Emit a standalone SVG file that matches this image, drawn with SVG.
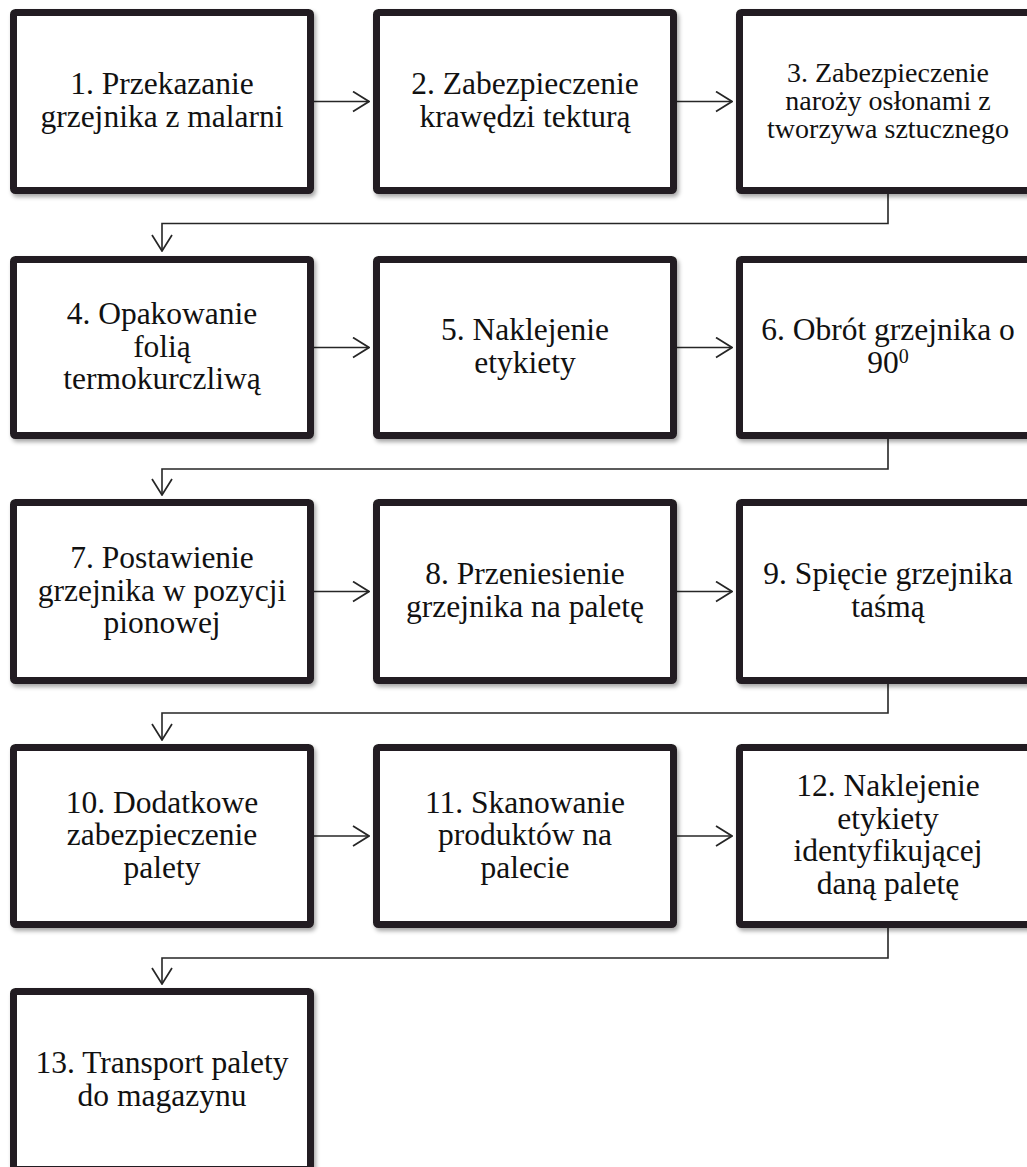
<svg xmlns="http://www.w3.org/2000/svg" width="1027" height="1167" viewBox="0 0 1027 1167">
<defs>
<filter id="sh" x="-5%" y="-5%" width="115%" height="120%">
<feDropShadow dx="2" dy="3" stdDeviation="2" flood-color="#000" flood-opacity="0.35"/>
</filter>
<marker id="ah" viewBox="0 0 18 22" refX="17" refY="11" markerWidth="18" markerHeight="22" markerUnits="userSpaceOnUse" orient="auto">
<path d="M1,1 L17,11 L1,21" fill="none" stroke="#262626" stroke-width="1.7"/>
</marker>
</defs>
<style>
.box{fill:#fff;stroke:#231f20;stroke-width:7;filter:url(#sh)}
.t{font-family:"Liberation Serif","Times New Roman",serif;font-size:31.5px;fill:#111;text-anchor:middle}
.s{font-size:28px}
.c{fill:none;stroke:#262626;stroke-width:1.6}
</style>
<rect width="1027" height="1167" fill="#fff"/>

<g id="connectors">
<path class="c" d="M314,101.5 H369" marker-end="url(#ah)"/>
<path class="c" d="M677,101.5 H732" marker-end="url(#ah)"/>
<path class="c" d="M888,194 V223.5 H162 V251" marker-end="url(#ah)"/>
<path class="c" d="M314,347.5 H369" marker-end="url(#ah)"/>
<path class="c" d="M677,347.5 H732" marker-end="url(#ah)"/>
<path class="c" d="M888,439 V469 H162 V495" marker-end="url(#ah)"/>
<path class="c" d="M314,591.5 H369" marker-end="url(#ah)"/>
<path class="c" d="M677,591.5 H732" marker-end="url(#ah)"/>
<path class="c" d="M888,684 V713 H162 V740" marker-end="url(#ah)"/>
<path class="c" d="M314,836 H369" marker-end="url(#ah)"/>
<path class="c" d="M677,836 H732" marker-end="url(#ah)"/>
<path class="c" d="M888,928 V958 H162 V984" marker-end="url(#ah)"/>
</g>

<g id="n1"><rect class="box" x="13.5" y="12.5" width="297" height="178" rx="2"/>
<text class="t" x="162" y="94.3">1. Przekazanie</text>
<text class="t" x="162" y="126.8">grzejnika z malarni</text></g>

<g id="n2"><rect class="box" x="376.5" y="12.5" width="297" height="178" rx="2"/>
<text class="t" x="525" y="94.3">2. Zabezpieczenie</text>
<text class="t" x="525" y="126.8">krawędzi tekturą</text></g>

<g id="n3"><rect class="box" x="739.5" y="12.5" width="297" height="178" rx="2"/>
<text class="t s" x="888" y="81.5">3. Zabezpieczenie</text>
<text class="t s" x="888" y="109.5">naroży osłonami z</text>
<text class="t s" x="888" y="137.5">tworzywa sztucznego</text></g>

<g id="n4"><rect class="box" x="13.5" y="259.5" width="297" height="176" rx="2"/>
<text class="t" x="162" y="324">4. Opakowanie</text>
<text class="t" x="162" y="356.5">folią</text>
<text class="t" x="162" y="389">termokurczliwą</text></g>

<g id="n5"><rect class="box" x="376.5" y="259.5" width="297" height="176" rx="2"/>
<text class="t" x="525" y="340.3">5. Naklejenie</text>
<text class="t" x="525" y="372.8">etykiety</text></g>

<g id="n6"><rect class="box" x="739.5" y="259.5" width="297" height="176" rx="2"/>
<text class="t" x="888" y="340.3">6. Obrót grzejnika o</text>
<text class="t" x="888" y="372.8">90<tspan font-size="20" dy="-10">0</tspan></text></g>

<g id="n7"><rect class="box" x="13.5" y="502.5" width="297" height="178" rx="2"/>
<text class="t" x="162" y="568">7. Postawienie</text>
<text class="t" x="162" y="600.5">grzejnika w pozycji</text>
<text class="t" x="162" y="633">pionowej</text></g>

<g id="n8"><rect class="box" x="376.5" y="502.5" width="297" height="178" rx="2"/>
<text class="t" x="525" y="584.3">8. Przeniesienie</text>
<text class="t" x="525" y="616.8">grzejnika na paletę</text></g>

<g id="n9"><rect class="box" x="739.5" y="502.5" width="297" height="178" rx="2"/>
<text class="t" x="888" y="584.3">9. Spięcie grzejnika</text>
<text class="t" x="888" y="616.8">taśmą</text></g>

<g id="n10"><rect class="box" x="13.5" y="747.5" width="297" height="177" rx="2"/>
<text class="t" x="162" y="812.5">10. Dodatkowe</text>
<text class="t" x="162" y="845">zabezpieczenie</text>
<text class="t" x="162" y="877.5">palety</text></g>

<g id="n11"><rect class="box" x="376.5" y="747.5" width="297" height="177" rx="2"/>
<text class="t" x="525" y="812.5">11. Skanowanie</text>
<text class="t" x="525" y="845">produktów na</text>
<text class="t" x="525" y="877.5">palecie</text></g>

<g id="n12"><rect class="box" x="739.5" y="747.5" width="297" height="177" rx="2"/>
<text class="t" x="888" y="796.3">12. Naklejenie</text>
<text class="t" x="888" y="828.8">etykiety</text>
<text class="t" x="888" y="861.3">identyfikującej</text>
<text class="t" x="888" y="893.8">daną paletę</text></g>

<g id="n13"><rect class="box" x="13.5" y="991.5" width="297" height="178" rx="2"/>
<text class="t" x="162" y="1073.3">13. Transport palety</text>
<text class="t" x="162" y="1105.8">do magazynu</text></g>
</svg>
